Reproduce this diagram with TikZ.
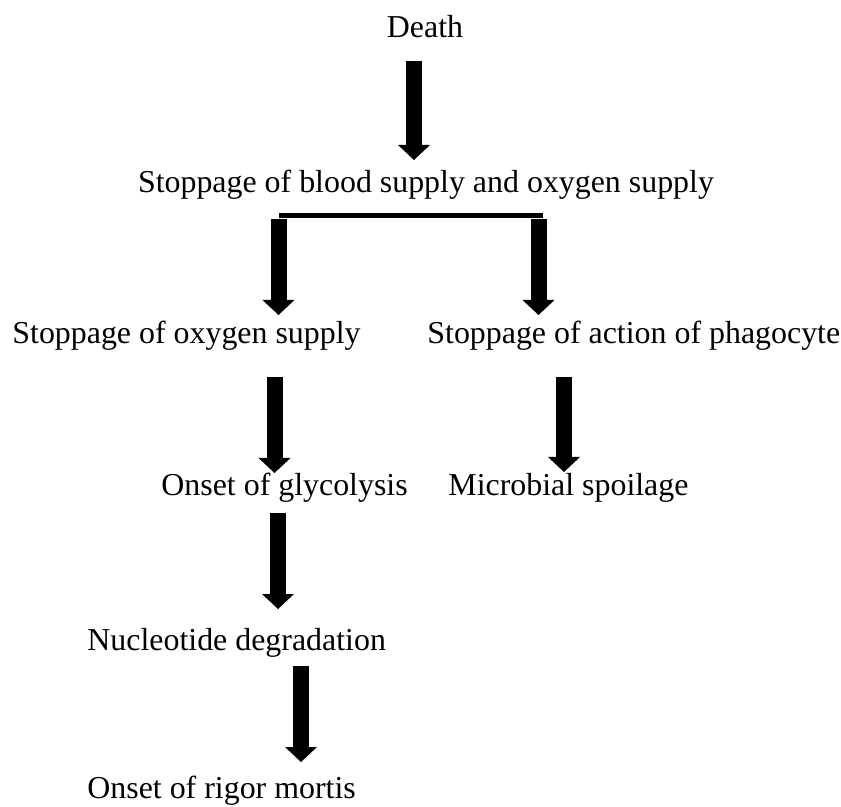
\documentclass[tikz,border=0pt]{standalone}
\usepackage{fontspec}
\setmainfont{Liberation Serif}
\usetikzlibrary{arrows.meta}
\begin{document}
\begin{tikzpicture}[x=0.5pt,y=-0.5pt,
  txt/.style={inner sep=0pt, font=\fontsize{15.95}{19}\selectfont},
  blk/.style={line width=8pt, -{Triangle[width=16pt,length=7.5pt,line width=0pt]}},
  barline/.style={line width=2.5pt}]
\useasboundingbox (0,0) rectangle (841,807);
% texts
\node[txt, anchor=base] (death) at (425,38) {Death};
\node[txt, anchor=base] (blood) at (426,193) {Stoppage of blood supply and oxygen supply};
\node[txt, anchor=base west] (oxy) at (12,344) {Stoppage of oxygen supply};
\node[txt, anchor=base west] (phago) at (427,344) {Stoppage of action of phagocyte};
\node[txt, anchor=base west] (glyco) at (161,496) {Onset of glycolysis};
\node[txt, anchor=base west] (micro) at (448,496) {Microbial spoilage};
\node[txt, anchor=base west] (nucl) at (87,650) {Nucleotide degradation};
\node[txt, anchor=base west] (rigor) at (87,798) {Onset of rigor mortis};
% arrow end points
\coordinate (a1s) at (414,61);    \coordinate (a1e) at (414,160);
\coordinate (b1)  at (279,215.5); \coordinate (b2)  at (543,215.5);
\coordinate (a2s) at (278.5,219); \coordinate (a2e) at (278.5,315);
\coordinate (a3s) at (538.5,219); \coordinate (a3e) at (538.5,315);
\coordinate (a4s) at (274.5,377); \coordinate (a4e) at (274.5,473);
\coordinate (a5s) at (564,377);   \coordinate (a5e) at (564,472);
\coordinate (a6s) at (278,513);   \coordinate (a6e) at (278,609);
\coordinate (a7s) at (301,666);   \coordinate (a7e) at (301,762);
% connectors
\draw[blk] (a1s) -- (a1e);
\draw[barline] (b1) -- (b2);
\draw[blk] (a2s) -- (a2e);
\draw[blk] (a3s) -- (a3e);
\draw[blk] (a4s) -- (a4e);
\draw[blk] (a5s) -- (a5e);
\draw[blk] (a6s) -- (a6e);
\draw[blk] (a7s) -- (a7e);
\end{tikzpicture}
\end{document}
